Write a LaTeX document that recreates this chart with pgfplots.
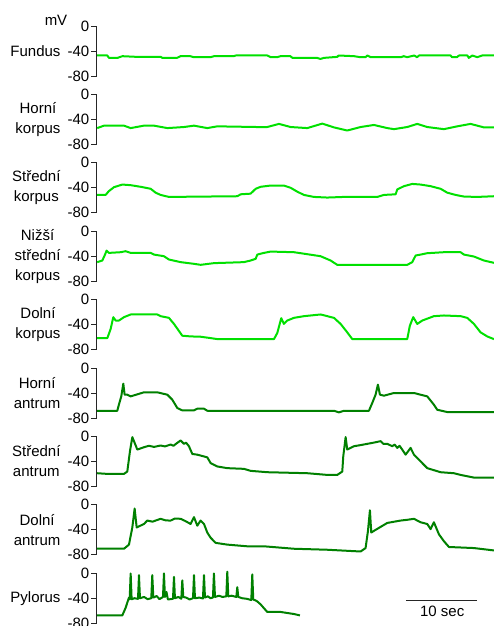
\documentclass[border=0pt]{standalone}
\usepackage{fontspec}
\setmainfont{Liberation Sans}
\usepackage{pgfplots}
\pgfplotsset{compat=1.18}
\definecolor{lgreen}{RGB}{0,224,0}
\definecolor{dgreen}{RGB}{0,128,0}
\pgfplotsset{
  panel/.style={
    scale only axis, width=397.5pt, height=50pt,
    xmin=0, xmax=56.8, ymin=-80, ymax=0,
    axis x line=none, axis y line*=left,
    axis line style={-, line width=0.9pt, black!85},
    ytick={-80,-40,0}, yticklabels={-80,-40,0},
    major tick length=5.5pt, tick align=outside,
    tick style={line width=0.9pt, black!85},
    yticklabel style={font=\fontsize{15}{18}\selectfont, inner sep=1.5pt},
    clip=false, anchor=north west,
  },
  ltrace/.style={lgreen, line width=2pt, line join=round},
  dtrace/.style={dgreen, line width=2pt, line join=round},
}
\tikzset{lab/.style={anchor=east, align=center, font=\fontsize{15}{20}\selectfont}}
\begin{document}
\begin{tikzpicture}
\path[use as bounding box] (0,0) rectangle (494pt,-626pt);
\node[font=\fontsize{15}{18}\selectfont] at (56pt,-20pt) {mV};
% 1 Fundus
\begin{axis}[panel, at={(96.5pt,-26pt)}]
\addplot[ltrace] coordinates {(0.1,-47.2) (1.55,-47.2) (1.78,-51) (3.0,-51) (3.7,-48.3) (5.8,-49.4) (9.2,-49.4) (9.4,-51) (11.5,-51) (12.0,-48.3) (13.4,-48.3) (13.9,-49.9) (16.3,-49.9) (16.8,-48.3) (19.6,-48.3) (19.9,-47.2) (24.4,-47.2) (24.9,-49.9) (25.8,-49.9) (26.3,-48.3) (27.7,-48.3) (28.0,-51) (31.5,-51) (32.0,-52.7) (32.5,-51) (34.4,-49.4) (34.6,-47.2) (36.8,-48.3) (37.7,-49.9) (38.45,-49.9) (38.7,-47.2) (39.2,-49.9) (43.5,-49.9) (43.9,-48.3) (44.4,-49.9) (45.4,-47.2) (45.8,-49.9) (46.1,-47.2) (50.6,-47.2) (50.8,-49.9) (51.5,-49.9) (51.8,-47.2) (53.0,-47.2) (53.2,-51) (53.7,-47.2) (54.4,-49.9) (55.1,-47.2) (56.8,-47.2)};
\end{axis}
\node[lab] at (64pt,-51pt) {Fundus};
% 2 Horni korpus
\begin{axis}[panel, at={(96.5pt,-94.4pt)}]
\addplot[ltrace] coordinates {(0.1,-53.9) (1.07,-50) (3.93,-50) (4.88,-53.9) (6.78,-50) (8.21,-50) (10.12,-53.9) (12.5,-52.2) (13.93,-50) (15.83,-53.9) (17.26,-51.1) (22.98,-52.2) (24.4,-52.2) (26.07,-47.2) (27.74,-52.2) (30.12,-53.9) (32.26,-46.7) (33.93,-52.8) (35.83,-57.8) (37.74,-52.2) (39.64,-48.9) (41.55,-53.9) (42.5,-55.6) (44.4,-52.2) (45.83,-47.2) (47.26,-52.2) (49.64,-55.6) (51.55,-51.1) (53.45,-47.2) (55.36,-52.8) (56.79,-52.8)};
\end{axis}
\node[lab] at (64pt,-119.4pt) {Horní\\korpus};
% 3 Stredni korpus
\begin{axis}[panel, at={(96.5pt,-162.8pt)}]
\addplot[ltrace] coordinates {(0.1,-51.4) (1.3,-51.4) (1.78,-45.2) (2.5,-39) (3.69,-34.8) (4.88,-35.8) (6.31,-38.4) (7.74,-41.6) (8.45,-47.8) (9.16,-51.4) (10.35,-54.6) (20.12,-53.5) (20.6,-50.4) (22.02,-49.4) (22.74,-41.6) (23.45,-38.4) (24.88,-36.4) (26.78,-36.4) (27.74,-40) (28.69,-46.2) (29.64,-51.4) (31.07,-54.6) (32.98,-55.6) (35.36,-54.6) (40.12,-54.6) (41.07,-51.4) (42.74,-50.4) (42.98,-42.6) (43.93,-37.4) (45.12,-33.8) (46.31,-34.8) (47.74,-37.4) (49.17,-41.6) (50.12,-47.8) (51.31,-51.4) (52.5,-54) (54.4,-54.6) (56.79,-53.5)};
\end{axis}
\node[lab] at (64pt,-187.8pt) {Střední\\korpus};
% 4 Nizsi stredni korpus
\begin{axis}[panel, at={(96.5pt,-231.2pt)}]
\addplot[ltrace] coordinates {(0.1,-49.5) (0.83,-46.9) (1.16,-38.9) (1.45,-31) (1.78,-34.7) (3.45,-33.6) (4.16,-32) (4.88,-34.7) (7.74,-34.7) (8.21,-37.4) (9.64,-40) (10.35,-45.3) (12.02,-49.5) (13.93,-52.2) (14.88,-53.8) (16.78,-51.1) (21.07,-49.5) (22.02,-46.9) (22.74,-44.2) (22.98,-37.4) (23.93,-34.7) (24.88,-32.6) (28.21,-33.6) (29.17,-35.2) (32.02,-40) (33.45,-46.9) (34.4,-53.8) (44.4,-53.8) (45.12,-49.5) (45.6,-38.9) (46.31,-37.4) (47.26,-35.2) (49.64,-33.6) (52.02,-33.6) (52.5,-37.4) (53.93,-40.5) (55.36,-46.9) (56.79,-50.6)};
\end{axis}
\node[lab] at (64pt,-256.2pt) {Nižší\\střední\\korpus};
% 5 Dolni korpus
\begin{axis}[panel, at={(96.5pt,-299.6pt)}]
\addplot[ltrace] coordinates {(0.1,-61.6) (1.55,-61.6) (2.02,-47) (2.4,-28.1) (2.73,-33.5) (3.2,-33.5) (3.93,-28.1) (4.88,-23.8) (8.69,-23.8) (9.16,-26.5) (10.35,-29.2) (11.07,-38.9) (12.26,-57.8) (13.45,-58.9) (14.88,-59.4) (16.31,-61.6) (17.26,-63.2) (25.36,-63.2) (25.83,-53.5) (26.4,-29.7) (26.78,-38.9) (27.26,-33.5) (28.21,-29.2) (29.64,-26.5) (32.02,-23.8) (32.98,-26.5) (33.93,-29.2) (34.88,-38.9) (35.83,-52.4) (36.55,-63.2) (44.4,-63.2) (44.78,-41.6) (45.26,-28.1) (45.83,-38.9) (46.55,-33.5) (48.21,-26.5) (49.64,-25.4) (52.02,-26.5) (52.98,-29.2) (53.93,-38.9) (54.88,-52.4) (55.83,-58.9) (56.79,-63.2)};
\end{axis}
\node[lab] at (64pt,-324.6pt) {Dolní\\korpus};
% 6 Horni antrum
\begin{axis}[panel, at={(96.5pt,-368pt)}]
\addplot[dtrace] coordinates {(0.1,-68.4) (2.97,-68.4) (3.2,-58.7) (3.54,-45.4) (3.83,-25) (4.02,-42.7) (4.4,-42.7) (4.88,-45.4) (6.78,-38.9) (8.69,-38.9) (10.12,-42.7) (10.83,-50.7) (11.55,-64.1) (12.26,-67.8) (13.93,-67.8) (14.4,-65.1) (15.36,-65.1) (15.83,-68.4) (33.93,-68.4) (34.64,-71) (35.36,-68.4) (38.93,-68.4) (39.4,-56) (39.88,-42.7) (40.21,-26.6) (40.5,-42.7) (41.07,-44.3) (42.5,-40) (45.36,-40) (47.26,-45.4) (48.21,-58.7) (48.69,-66.8) (50.12,-70.5) (56.79,-70.5)};
\end{axis}
\node[lab] at (64pt,-393pt) {Horní\\antrum};
% 7 Stredni antrum
\begin{axis}[panel, at={(96.5pt,-436.4pt)}]
\addplot[dtrace] coordinates {(0.1,-58.9) (1.55,-60) (3.93,-60) (4.4,-56.2) (4.78,-23.8) (5.12,-1.1) (5.45,-10.3) (5.83,-21.1) (6.78,-17.3) (7.5,-15) (8.21,-16.8) (9.16,-14.6) (9.8,-16) (10.59,-13) (11.0,-15) (11.55,-10.3) (12.02,-6.5) (12.5,-11.9) (12.8,-10) (13.21,-15.7) (13.69,-28.1) (14.4,-29.2) (15.83,-33.5) (16.31,-42.7) (17.26,-48.1) (18.69,-50.8) (21.07,-51.9) (22.02,-55.1) (24.4,-57.3) (30.12,-58.9) (32.98,-61.6) (34.4,-61.6) (35.12,-56.2) (35.26,-31.9) (35.6,-1.1) (35.83,-21.1) (36.79,-15.7) (37.7,-14) (38.69,-11.9) (39.6,-10) (40.6,-7.6) (41.0,-12) (41.55,-11.9) (42.26,-15.7) (42.6,-13) (42.98,-18.4) (43.3,-15) (43.69,-21.1) (44.17,-29.2) (44.88,-18.4) (45.36,-29.2) (46.31,-40) (47.26,-50.8) (49.17,-57.3) (51.07,-58.9) (52.02,-61.6) (53.93,-65.9) (56.79,-65.9)};
\end{axis}
\node[lab] at (64pt,-461.4pt) {Střední\\antrum};
% 8 Dolni antrum
\begin{axis}[panel, at={(96.5pt,-504.8pt)}]
\addplot[dtrace] coordinates {(0.1,-70.3) (3.93,-70.3) (4.64,-63.7) (5.12,-36.2) (5.45,-5.9) (5.74,-36.2) (6.78,-30.7) (7.26,-25.2) (8.0,-27) (9.16,-22.4) (9.9,-25) (10.59,-25.2) (11.2,-22) (12.02,-22.4) (12.7,-26) (13.45,-30.7) (13.93,-19.7) (14.4,-33.4) (14.88,-25.2) (15.36,-30.7) (15.83,-44.4) (16.31,-52.7) (17.02,-60.9) (18.69,-63.7) (21.55,-66.4) (23.93,-66.4) (28.21,-70.3) (32.98,-71.9) (37.74,-74.7) (38.45,-69.2) (38.79,-41.7) (39.07,-8.7) (39.26,-44.4) (39.64,-41.7) (41.55,-29) (43.45,-25.2) (44.4,-24) (45.36,-22.4) (46.31,-27.9) (47.26,-30.7) (47.74,-38.9) (48.21,-27.9) (48.93,-47.2) (49.64,-58.2) (50.36,-67.5) (53.93,-69.2) (56.79,-73)};
\end{axis}
\node[lab] at (64pt,-529.8pt) {Dolní\\antrum};
% 9 Pylorus
\begin{axis}[panel, at={(96.5pt,-573.2pt)}]
\addplot[dtrace] coordinates {(0.1,-67.5) (3.69,-67.5) (4.16,-55.4) (4.64,-38.9) (4.74,-41.7) (4.88,-0.4) (5.02,-41.7) (5.4,-40) (5.93,-41) (6.07,-3.2) (6.21,-40) (6.8,-38) (7.3,-41.5) (7.83,-40) (7.97,-3.2) (8.12,-39) (8.6,-36.5) (9.0,-41.5) (9.5,-38) (9.64,-0.4) (9.78,-38) (10.0,-30) (10.2,-42) (10.93,-41) (11.07,-5.9) (11.21,-40) (11.7,-38) (12.12,-41) (12.26,-11.4) (12.4,-38) (12.8,-39) (13.3,-42) (13.79,-40) (13.93,-3.2) (14.07,-40) (14.7,-39) (15.21,-40.5) (15.36,-3.2) (15.5,-39) (15.9,-37) (16.3,-40) (16.64,-39) (16.78,-0.4) (16.93,-38) (17.5,-36) (18.0,-38) (18.55,-37) (18.69,2.4) (18.83,-37) (19.3,-36) (19.98,-38) (20.12,-22.4) (20.26,-38) (20.8,-40) (21.5,-41) (22.12,-43) (22.26,-2) (22.4,-42) (22.9,-44.5) (23.45,-49.9) (24.4,-62) (26.31,-62) (28.21,-65.3) (29.07,-67.5)};
\addplot[black!85, line width=0.9pt] coordinates {(44.2,-42.9) (54.3,-42.9)};
\node[font=\fontsize{15}{18}\selectfont] at (axis cs:49.4,-61.6) {10 sec};
\end{axis}
\node[lab] at (64pt,-598.2pt) {Pylorus};
\end{tikzpicture}
\end{document}
